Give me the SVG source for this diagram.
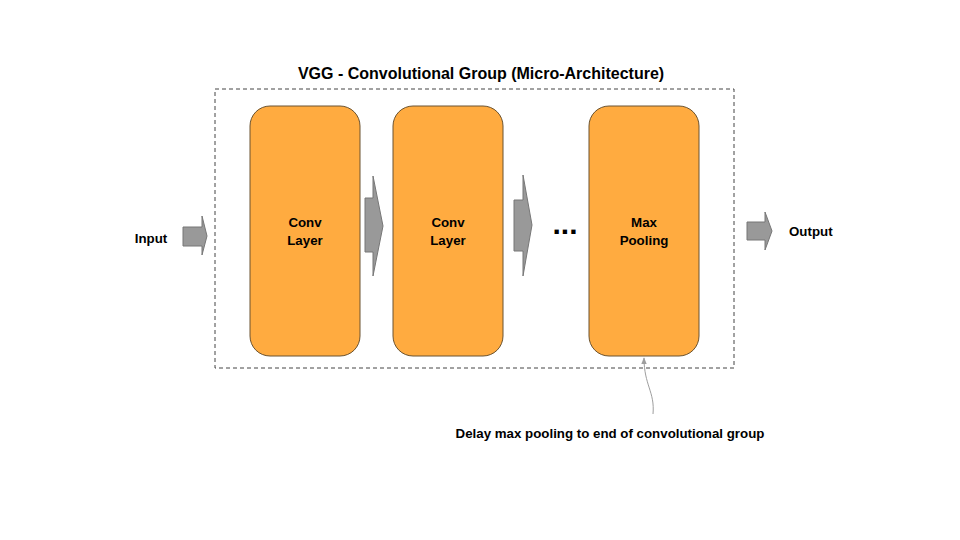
<svg xmlns="http://www.w3.org/2000/svg" width="960" height="540" viewBox="0 0 960 540">
<style>
.t{font-family:"Liberation Sans",Arial,sans-serif;font-weight:bold;fill:#000}
.box{fill:#FFAB40;stroke:#6b5330;stroke-width:1}
.arr{fill:#999999;stroke:#777777;stroke-width:1}
</style>
<defs>
<marker id="ah" viewBox="0 0 10 10" refX="9" refY="5" markerWidth="7" markerHeight="7" orient="auto-start-reverse">
<path d="M0,1 L10,5 L0,9 Z" fill="#9e9e9e"/>
</marker>
</defs>
<rect width="960" height="540" fill="#fff"/>
<text class="t" x="481" y="79" font-size="16" text-anchor="middle">VGG - Convolutional Group (Micro-Architecture)</text>
<g id="group">
<rect x="215" y="89" width="519" height="279" fill="none" stroke="#444" stroke-width="1" stroke-dasharray="4,3"/>
</g>
<g id="input">
<text class="t" x="151" y="243" font-size="13.3" text-anchor="middle">Input</text>
</g>
<g id="conv1">
<rect class="box" x="250" y="106" width="110" height="250" rx="20"/>
<text class="t" x="305" y="227" font-size="13.3" text-anchor="middle">Conv</text>
<text class="t" x="305" y="245" font-size="13.3" text-anchor="middle">Layer</text>
</g>
<g id="conv2">
<rect class="box" x="393" y="106" width="110" height="250" rx="20"/>
<text class="t" x="448" y="227" font-size="13.3" text-anchor="middle">Conv</text>
<text class="t" x="448" y="245" font-size="13.3" text-anchor="middle">Layer</text>
</g>
<g id="ellipsis">
<text class="t" x="565" y="234" font-size="30" text-anchor="middle">...</text>
</g>
<g id="maxpool">
<rect class="box" x="589" y="106" width="110" height="250" rx="20"/>
<text class="t" x="644" y="227" font-size="13.3" text-anchor="middle">Max</text>
<text class="t" x="644" y="245" font-size="13.3" text-anchor="middle">Pooling</text>
</g>
<g id="output">
<text class="t" x="789" y="236" font-size="13.3">Output</text>
</g>
<g id="note">
<text class="t" x="610" y="438" font-size="13.3" text-anchor="middle">Delay max pooling to end of convolutional group</text>
</g>
<g id="connectors">
<path class="arr" d="M183,227 L202,227 L202,216 L207,236 L202,255 L202,246 L183,246 Z"/>
<path class="arr" d="M365,198 L373,198 L373,176 L383,226 L373,276 L373,252 L365,252 Z"/>
<path class="arr" d="M514,200 L523,200 L523,175 L532,225 L523,276 L523,251 L514,251 Z"/>
<path class="arr" d="M747,222 L765,222 L765,212 L772,231 L765,250 L765,240 L747,240 Z"/>
<path d="M653,414 C655,392 644,385 644,358" fill="none" stroke="#9e9e9e" stroke-width="1" marker-end="url(#ah)"/>
</g>
</svg>
